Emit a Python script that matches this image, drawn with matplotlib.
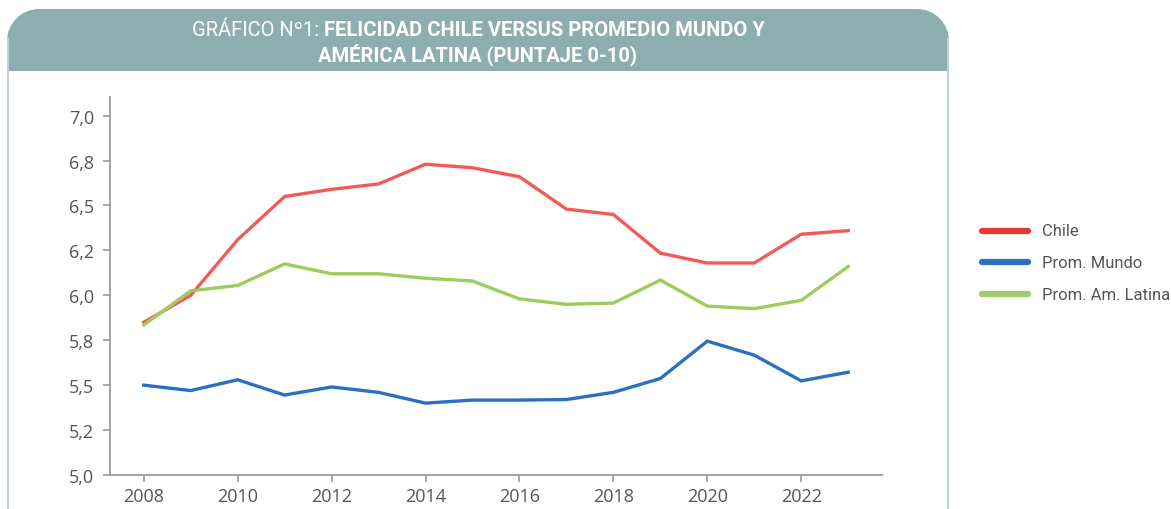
import matplotlib
matplotlib.use("Agg")
import matplotlib.pyplot as plt
from matplotlib.lines import Line2D
from matplotlib.path import Path
from matplotlib.patches import PathPatch
from matplotlib.ticker import FixedLocator, FuncFormatter

years = list(range(2008, 2024))
chile = [5.85, 6.00, 6.31, 6.55, 6.59, 6.62, 6.73, 6.71, 6.66, 6.48, 6.45, 6.235, 6.18, 6.18, 6.34, 6.36]
mundo = [5.50, 5.47, 5.53, 5.445, 5.49, 5.46, 5.40, 5.417, 5.417, 5.42, 5.46, 5.537, 5.745, 5.667, 5.524, 5.572]
latam = [5.835, 6.025, 6.055, 6.175, 6.12, 6.12, 6.095, 6.08, 5.98, 5.95, 5.957, 6.085, 5.94, 5.926, 5.972, 6.16]
series_names = ["Chile", "Prom. Mundo", "Prom. Am. Latina"]
line_colors = ["#f25a5a", "#2a6fc2", "#9ccc5a"]
legend_colors = ["#e8392e", "#2a6fc2", "#a3cc6a"]
y_ticks = [5.0, 5.25, 5.5, 5.75, 6.0, 6.25, 6.5, 6.75, 7.0]
x_ticks = [2008, 2010, 2012, 2014, 2016, 2018, 2020, 2022]
title_light = "GRÁFICO Nº1: "
title_bold1 = "FELICIDAD CHILE VERSUS PROMEDIO MUNDO Y"
title_bold2 = "AMÉRICA LATINA (PUNTAJE 0-10)"

W, H = 1171, 510
fig = plt.figure(figsize=(W / 100, H / 100), dpi=100)
fig.patch.set_facecolor("white")

cond = ["Roboto", "DejaVu Sans"]
banner_col = "#8eadb1"
frame_col = "#bcd3d7"

# frame lines
fig.add_artist(Line2D([7.5 / W, 7.5 / W], [0, 1 - 40 / H], transform=fig.transFigure, color=frame_col, lw=1.5))
fig.add_artist(Line2D([948.5 / W, 948.5 / W], [0, 1 - 40 / H], transform=fig.transFigure, color=frame_col, lw=1.5))

# banner with rounded top corners
x0, x1, yt, yb, r = 7, 949, 10, 72, 32
def P(x, y):
    return (x / W, 1 - y / H)
k = 0.5523
verts = [P(x0, yb), P(x0, yt + r),
         P(x0, yt + r - k * r), P(x0 + r - k * r, yt), P(x0 + r, yt),
         P(x1 - r, yt),
         P(x1 - r + k * r, yt), P(x1, yt + r - k * r), P(x1, yt + r),
         P(x1, yb), P(x0, yb)]
codes = [Path.MOVETO, Path.LINETO, Path.CURVE4, Path.CURVE4, Path.CURVE4, Path.LINETO,
         Path.CURVE4, Path.CURVE4, Path.CURVE4, Path.LINETO, Path.CLOSEPOLY]
fig.add_artist(PathPatch(Path(verts, codes), transform=fig.transFigure, facecolor=banner_col, edgecolor="none"))

# title text
renderer = fig.canvas.get_renderer()
tsize = 14.5
t1 = fig.text(0, 0, title_light, fontsize=tsize, family=cond, color="white", fontweight="normal")
t2 = fig.text(0, 0, title_bold1, fontsize=tsize, family=cond, color="white", fontweight="bold")
w1 = t1.get_window_extent(renderer).width
w2 = t2.get_window_extent(renderer).width
cx = 478
start = cx - (w1 + w2) / 2
t1.set_position((start / W, 1 - 30 / H)); t1.set_va("center")
t2.set_position(((start + w1) / W, 1 - 30 / H)); t2.set_va("center")
fig.text(cx / W, 1 - 55 / H, title_bold2, fontsize=tsize, family=cond, color="white",
         fontweight="bold", ha="center", va="center")

ax = fig.add_axes([109.5 / W, 1 - 476 / H, (882 - 109.5) / W, (476 - 98) / H])
for name, vals, c in zip(series_names, [chile, mundo, latam], line_colors):
    ax.plot(years, vals, color=c, lw=2.4, label=name, solid_joinstyle="miter")

ax.set_xlim(2007.27, 2023.72)
ax.set_ylim(5.0, 7.0 + (116.7 - 98) / 180)
ax.yaxis.set_major_locator(FixedLocator(y_ticks))
ax.yaxis.set_major_formatter(FuncFormatter(lambda v, p: ("%.1f" % v).replace(".", ",")))
ax.xaxis.set_major_locator(FixedLocator(x_ticks))
for s in ["top", "right"]:
    ax.spines[s].set_visible(False)
for s in ["left", "bottom"]:
    ax.spines[s].set_color("#9a9a9a")
    ax.spines[s].set_linewidth(1.3)
ax.tick_params(axis="both", colors="#9a9a9a", labelcolor="#555555", labelsize=13, length=5, width=1.2)
ax.tick_params(axis="y", pad=6)
ax.tick_params(axis="x", pad=4)
for lab in ax.get_xticklabels() + ax.get_yticklabels():
    lab.set_family(["Open Sans", "DejaVu Sans"])

# legend
ly = [232, 263, 295]
for name, c, yy in zip(series_names, legend_colors, ly):
    fig.add_artist(Line2D([982 / W, 1028 / W], [1 - yy / H, 1 - yy / H], transform=fig.transFigure,
                          color=c, lw=4.5, solid_capstyle="round"))
    fig.text(1042 / W, 1 - yy / H, name, fontsize=12, family=cond, color="#555555", va="center")

fig.savefig("out.png", dpi=100, facecolor="white")
